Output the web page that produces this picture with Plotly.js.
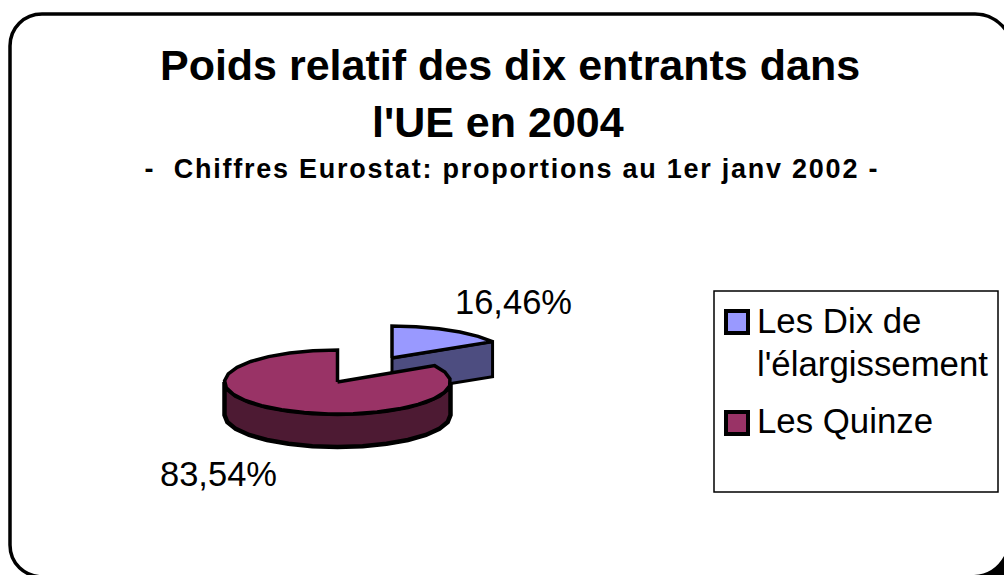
<!DOCTYPE html>
<html>
<head>
<meta charset="utf-8">
<script src="https://cdn.plot.ly/plotly-3.0.1.min.js"></script>
<style>
html,body{margin:0;padding:0;background:#fff}#chart{width:1004px;height:575px}
g.annotation[data-index="1"] text{letter-spacing:1.75px}
</style>
</head>
<body>
<div id="chart"></div>
<script>
// Data
var sliceNames = ["Les Dix de<br>l'élargissement", "Les Quinze"];
var sliceValues = [16.46, 83.54];
var sliceLabels = ["16,46%", "83,54%"];
var topColors = ["#9999FF", "#993366"];
var sideColors = ["#4D4D80", "#4D1A33"];
var titleLine1 = "Poids relatif des dix entrants dans";
var titleLine2 = "l'UE en 2004";
var subtitle = "-  Chiffres Eurostat: proportions au 1er janv 2002 -";

// Projection of the tilted pie
var RXS = [117, 113], RY = 32, STEP = 13;
var apexes = [[392, 358], [337.5, 382]];
var depths = [35, 33];
var total = sliceValues.reduce(function (a, b) { return a + b; }, 0);
var sweep0 = sliceValues[0] / total * 360;
var ranges = [[0, sweep0], [sweep0, 360]];

function rimPoint(i, deg, dy) {
  var r = deg * Math.PI / 180, apex = apexes[i];
  return [apex[0] + RXS[i] * Math.sin(r), apex[1] - RY * Math.cos(r) + (dy || 0)];
}
function arc(i, a0, a1, dy) {
  var pts = [], n = Math.max(1, Math.ceil(Math.abs(a1 - a0) / STEP));
  for (var k = 0; k <= n; k++) pts.push(rimPoint(i, a0 + (a1 - a0) * k / n, dy));
  return pts;
}
function polyTrace(pts, fill, width) {
  var closed = pts.concat([pts[0]]);
  return {
    type: "scatter", mode: "lines", x: closed.map(function (p) { return p[0]; }),
    y: closed.map(function (p) { return p[1]; }), fill: "toself", fillcolor: fill,
    line: { color: "#000", width: width, shape: "linear" }, hoverinfo: "skip", showlegend: false
  };
}
var traces = [];
// Small slice: cut face then top
var a = apexes[0], d = depths[0];
traces.push(polyTrace([a, rimPoint(0, ranges[0][1]), rimPoint(0, ranges[0][1], d), [a[0], a[1] + d]], sideColors[0], 3));
traces.push(polyTrace([a].concat(arc(0, ranges[0][0], ranges[0][1])), topColors[0], 3.5));
// Large slice: front rim then top
a = apexes[1]; d = depths[1];
traces.push(polyTrace(arc(1, 90, 270).concat(arc(1, 270, 90, d)), sideColors[1], 4.5));
traces.push(polyTrace([a].concat(arc(1, ranges[1][0], ranges[1][1])), topColors[1], 3.5));
// Legend swatches
var swatchY = [322, 423];
traces.push({
  type: "scatter", mode: "markers", x: [737, 737], y: swatchY, hoverinfo: "skip", showlegend: false,
  marker: { symbol: "square", size: 22, color: topColors, line: { color: "#000", width: 4 } }
});

function txt(text, x, y, size, bold) {
  return { text: bold ? "<b>" + text + "</b>" : text, x: x, y: y, xref: "x", yref: "y", showarrow: false,
    xanchor: "center", yanchor: "middle", font: { family: "Liberation Sans, Arial, sans-serif", size: size, color: "#000" } };
}
function left(text, x, y, size) {
  var t = txt(text, x, y, size, false); t.xanchor = "left"; return t;
}
var legendFont = 34.8;
var annotations = [
  txt(titleLine2, 498, 122, 43, true),
  txt(subtitle, 512, 169, 27, true),
  txt(sliceLabels[0], 513, 302, 34.5, false),
  txt(sliceLabels[1], 218, 474, 34.5, false),
  left("Les Dix de", 755, 320, legendFont),
  left("l'élargissement", 755, 363, legendFont),
  left(sliceNames[1], 755, 420, legendFont)
];
var shapes = [
  { type: "path", xref: "x", yref: "y", line: { color: "#000", width: 3.5 }, fillcolor: "#fff", layer: "below",
    path: "M10,46 C10,28 24,14 42,14 L975,14 C992,14 1004,24 1012,40 L1012,545 C1012,565 1000,577 975,577 L44,577 C24,577 10,563 10,545 Z" },
  { type: "path", xref: "x", yref: "y", line: { width: 0 }, fillcolor: "#000", layer: "below",
    path: "M974,575 Q994,574 1004,556 L1004,575 Z" },
  { type: "rect", xref: "x", yref: "y", x0: 714, x1: 998, y0: 291, y1: 492, line: { color: "#000", width: 1.5 }, fillcolor: "#fff", layer: "below" }
];
var layout = {
  width: 1004, height: 575, margin: { l: 0, r: 0, t: 0, b: 0 },
  paper_bgcolor: "#fff", plot_bgcolor: "rgba(0,0,0,0)", showlegend: false,
  title: { text: "<b>" + titleLine1 + "</b>", x: 0.508, xanchor: "center", y: 0.887, yanchor: "middle",
    font: { family: "Liberation Sans, Arial, sans-serif", size: 43, color: "#000" } },
  xaxis: { range: [0, 1004], visible: false, fixedrange: true },
  yaxis: { range: [575, 0], visible: false, fixedrange: true },
  annotations: annotations, shapes: shapes
};
Plotly.newPlot("chart", traces, layout, { displayModeBar: false, staticPlot: true });
</script>
</body>
</html>
